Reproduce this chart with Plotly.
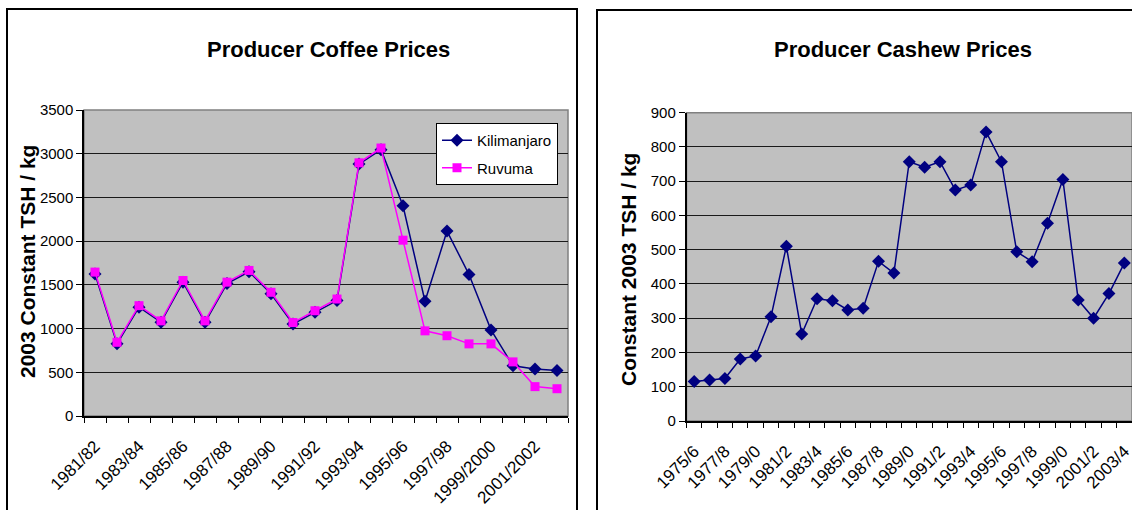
import plotly.graph_objects as go

# ---------------- data ----------------
coffee_seasons = ["1981/82", "1982/83", "1983/84", "1984/85", "1985/86", "1986/87",
                  "1987/88", "1988/89", "1989/90", "1990/91", "1991/92", "1992/93",
                  "1993/94", "1994/95", "1995/96", "1996/97", "1997/98", "1998/99",
                  "1999/2000", "2000/2001", "2001/2002", "2002/2003"]
coffee_tick_labels = ["1981/82", "1983/84", "1985/86", "1987/88", "1989/90", "1991/92",
                      "1993/94", "1995/96", "1997/98", "1999/2000", "2001/2002"]
kilimanjaro = [1625, 825, 1245, 1072, 1530, 1072, 1515, 1650, 1398, 1052, 1186, 1320,
               2881, 3046, 2405, 1312, 2115, 1619, 985, 575, 537, 519]
ruvuma = [1646, 843, 1262, 1088, 1550, 1088, 1531, 1665, 1415, 1069, 1204, 1338,
          2896, 3065, 2011, 974, 918, 825, 825, 619, 336, 312]

cashew_seasons = ["1975/6", "1976/7", "1977/8", "1978/9", "1979/0", "1980/1", "1981/2",
                  "1982/3", "1983/4", "1984/5", "1985/6", "1986/7", "1987/8", "1988/9",
                  "1989/0", "1990/1", "1991/2", "1992/3", "1993/4", "1994/5", "1995/6",
                  "1996/7", "1997/8", "1998/9", "1999/0", "2000/1", "2001/2", "2002/3",
                  "2003/4"]
cashew_tick_labels = ["1975/6", "1977/8", "1979/0", "1981/2", "1983/4", "1985/6", "1987/8",
                      "1989/0", "1991/2", "1993/4", "1995/6", "1997/8", "1999/0", "2001/2",
                      "2003/4"]
cashew = [115, 120, 124, 181, 190, 304, 510, 254, 357, 351, 324, 329, 466, 432,
          757, 741, 757, 674, 689, 844, 757, 494, 465, 577, 705, 353, 300, 372, 461]

# ---------------- styling ----------------
W, H = 1132, 510
FONT = "Liberation Sans, Arial, sans-serif"
NAVY = "#000080"
MAGENTA = "#FF00FF"
PLOTBG = "#C0C0C0"


def px_x(v):
    return v / W


def px_y(v):
    return 1 - v / H


fig = go.Figure()

fig.add_trace(go.Scatter(
    x=coffee_seasons, y=kilimanjaro, name="Kilimanjaro", mode="lines+markers",
    legendgroup="k",
    line=dict(color=NAVY, width=1.5),
    marker=dict(symbol="diamond", size=10, color=NAVY),
    xaxis="x", yaxis="y"))
fig.add_trace(go.Scatter(
    x=coffee_seasons, y=ruvuma, name="Ruvuma", mode="lines+markers",
    legendgroup="r",
    line=dict(color=MAGENTA, width=1.5),
    marker=dict(symbol="square", size=9, color=MAGENTA),
    xaxis="x", yaxis="y"))
fig.add_trace(go.Scatter(
    x=cashew_seasons, y=cashew, name="Cashew", mode="lines+markers", showlegend=False,
    line=dict(color=NAVY, width=1.5),
    marker=dict(symbol="diamond", size=10, color=NAVY),
    xaxis="x2", yaxis="y2"))

coffee_ticktext = [s if s in coffee_tick_labels else "" for s in coffee_seasons]
cashew_ticktext = [s if s in cashew_tick_labels else "" for s in cashew_seasons]

common_x = dict(type="category", tickson="boundaries", ticks="outside", ticklen=5,
                tickcolor="black", showline=True, linecolor="black", linewidth=1.5,
                showgrid=False, tickangle=-45, automargin=False,
                ticklabelstandoff=12,
                tickfont=dict(family=FONT, size=17, color="black"))
common_y = dict(ticks="outside", ticklen=6, tickcolor="black", showline=True,
                linecolor="black", linewidth=1.5, showgrid=True, gridcolor="#1a1a1a",
                gridwidth=1, zeroline=False, automargin=False,
                tickfont=dict(family=FONT, size=15, color="black"))

fig.update_layout(
    template="none",
    width=W, height=H,
    margin=dict(l=0, r=0, t=0, b=0, pad=0, autoexpand=False),
    paper_bgcolor="white",
    plot_bgcolor=PLOTBG,
    showlegend=True,
    legend=dict(x=px_x(436), y=px_y(123), xanchor="left", yanchor="top",
                bgcolor="white", bordercolor="black", borderwidth=1,
                font=dict(family=FONT, size=15, color="black"),
                tracegroupgap=5),
    xaxis=dict(domain=[px_x(84), px_x(568)], anchor="y",
               tickvals=coffee_seasons, ticktext=coffee_ticktext,
               range=[-0.5, len(coffee_seasons) - 0.5], **common_x),
    yaxis=dict(domain=[px_y(416), px_y(110)], anchor="x",
               range=[0, 3500], dtick=500, **common_y),
    xaxis2=dict(domain=[px_x(686.5), 1.0], anchor="y2",
                tickvals=cashew_seasons, ticktext=cashew_ticktext,
                range=[-0.5, len(cashew_seasons) - 0.5], **common_x),
    yaxis2=dict(domain=[px_y(421), px_y(112.7)], anchor="x2",
                range=[0, 900], dtick=100, **common_y),
)

# chart frames
fig.add_shape(type="rect", xref="paper", yref="paper",
              x0=px_x(7), x1=px_x(577), y0=-0.1, y1=px_y(9),
              line=dict(color="black", width=2), layer="below")
fig.add_shape(type="rect", xref="paper", yref="paper",
              x0=px_x(597), x1=1.2, y0=-0.1, y1=px_y(10),
              line=dict(color="black", width=2), layer="below")
# plot-area borders
fig.add_shape(type="rect", xref="x domain", yref="y domain", x0=0, x1=1, y0=0, y1=1,
              line=dict(color="#808080", width=1.5), layer="below")
fig.add_shape(type="rect", xref="x2 domain", yref="y2 domain", x0=0, x1=1, y0=0, y1=1,
              line=dict(color="#808080", width=1.5), layer="below")

# titles
ann = dict(xref="paper", yref="paper", showarrow=False, xanchor="center", yanchor="middle")
fig.add_annotation(text="<b>Producer Coffee Prices</b>", x=px_x(328), y=px_y(50),
                   font=dict(family=FONT, size=22, color="black"), **ann)
fig.add_annotation(text="<b>Producer Cashew Prices</b>", x=px_x(903), y=px_y(50),
                   font=dict(family=FONT, size=22, color="black"), **ann)
fig.add_annotation(text="<b>2003 Constant TSH / kg</b>", x=px_x(27), y=px_y(262),
                   textangle=-90, font=dict(family=FONT, size=21, color="black"), **ann)
fig.add_annotation(text="<b>Constant 2003 TSH / kg</b>", x=px_x(628), y=px_y(269),
                   textangle=-90, font=dict(family=FONT, size=21, color="black"), **ann)

fig.write_html("out.html", config={"displayModeBar": False},
               post_script="document.body.style.margin='0px';")
